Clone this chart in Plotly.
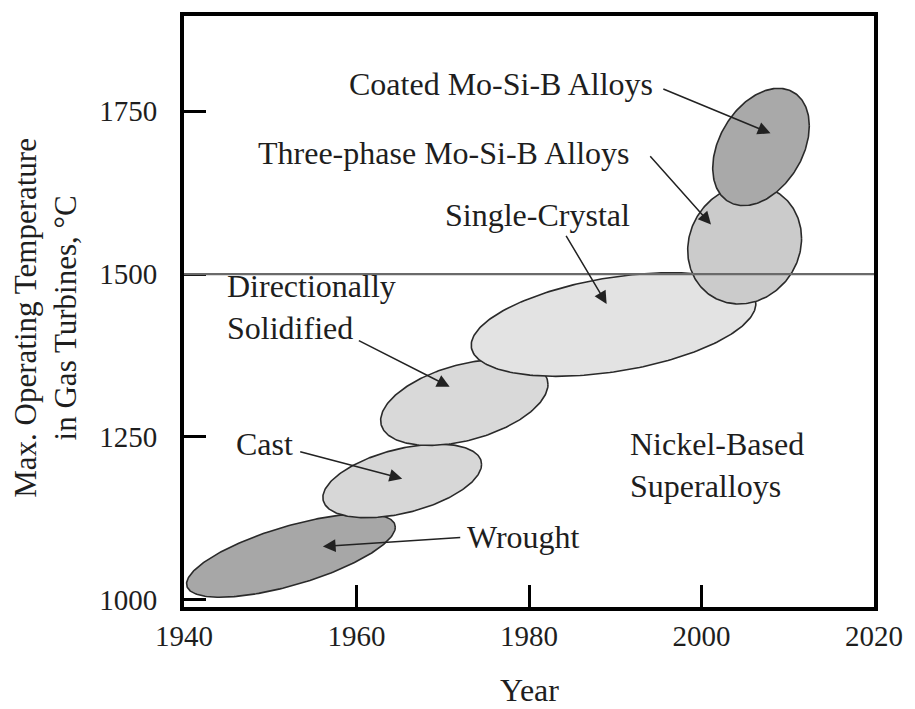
import numpy as np
import plotly.graph_objects as go

# ---- data ----
alloys = ["Wrought", "Cast", "Directionally Solidified", "Single-Crystal",
          "Three-phase Mo-Si-B Alloys", "Coated Mo-Si-B Alloys"]
year_start = [1940.3, 1956.1, 1962.8, 1973.3, 1998.4, 2001.3]
year_end = [1964.5, 1974.5, 1982.2, 2006.3, 2011.6, 2012.5]
temp_min = [1004, 1126, 1237, 1343, 1454, 1605]
temp_max = [1132, 1239, 1369, 1502, 1637, 1785]
tilt = [0.68, 0.45, 0.42, 0.40, 0.10, 0.36]  # year/temperature correlation of each band

arrow_tail_year = [1995.4, 1993.9, 1984.2, 1960.1, 1953.3, 1972.2]
arrow_tail_temp = [1785, 1683, 1561, 1399, 1228, 1096]
arrow_head_year = [2008.0, 2001.1, 1989.0, 1970.8, 1965.3, 1956.1]
arrow_head_temp = [1716, 1576, 1454, 1327, 1186, 1082]

reference_temp = 1500
x_ticks = [1940, 1960, 1980, 2000, 2020]
y_ticks = [1000, 1250, 1500, 1750]

# ---- styles ----
FONT = "Liberation Serif"
TXT = "#1e1e1e"
fills = ["#a7a7a7", "#d7d7d7", "#d9d9d9", "#e3e3e3", "#cbcbcb", "#a9a9a9"]

fig = go.Figure()
t = np.linspace(0, 2 * np.pi, 241)
for name, x0, x1, y0, y1, r, fc in zip(alloys, year_start, year_end,
                                        temp_min, temp_max, tilt, fills):
    cx, hx = (x0 + x1) / 2, (x1 - x0) / 2
    cy, hy = (y0 + y1) / 2, (y1 - y0) / 2
    xs = cx + hx * np.cos(t)
    ys = cy + hy * (r * np.cos(t) + np.sqrt(1 - r * r) * np.sin(t))
    fig.add_trace(go.Scatter(x=xs, y=ys, mode="lines", fill="toself",
                             fillcolor=fc, line=dict(color="#2a2a2a", width=1.6),
                             name=name, showlegend=False, hoverinfo="skip"))

fig.add_shape(type="line", xref="paper", x0=0, x1=1, yref="y",
              y0=reference_temp, y1=reference_temp,
              line=dict(color="#6a6a6a", width=2.2), layer="above")

for tx, ty, hx_, hy_ in zip(arrow_tail_year, arrow_tail_temp,
                            arrow_head_year, arrow_head_temp):
    fig.add_annotation(x=hx_, y=hy_, ax=tx, ay=ty, xref="x", yref="y",
                       axref="x", ayref="y", text="", showarrow=True,
                       arrowhead=2, arrowsize=1.7, arrowwidth=1.5,
                       arrowcolor="#222")

FS = 32
labels = [
    ("Coated Mo-Si-B Alloys", 1976.7, 1792),
    ("Three-phase Mo-Si-B Alloys", 1970.2, 1686),
    ("Single-Crystal", 1981.0, 1590),
    ("Cast", 1949.3, 1239),
    ("Wrought", 1979.4, 1097),
]
for txt, x, y in labels:
    fig.add_annotation(x=x, y=y, xref="x", yref="y", text=txt, showarrow=False,
                       xanchor="center", yanchor="middle",
                       font=dict(family=FONT, size=FS, color=TXT))
fig.add_annotation(x=1944.7, y=1449, xref="x", yref="y", xanchor="left",
                   yanchor="middle", align="left",
                   text="Directionally<br>Solidified",
                   showarrow=False, font=dict(family=FONT, size=FS, color=TXT))
fig.add_annotation(x=1991.5, y=1207, xref="x", yref="y", xanchor="left",
                   yanchor="middle", align="left",
                   text="Nickel-Based<br>Superalloys",
                   showarrow=False, font=dict(family=FONT, size=FS, color=TXT))

# axis titles
fig.add_annotation(x=-0.201, y=0.49, xref="paper", yref="paper", textangle=-90,
                   xanchor="center", yanchor="middle",
                   text="Max. Operating Temperature<br>in Gas Turbines, °C",
                   showarrow=False, font=dict(family=FONT, size=31, color=TXT))
fig.add_annotation(x=0.5, y=-0.14, xref="paper", yref="paper", text="Year",
                   xanchor="center", yanchor="middle",
                   showarrow=False, font=dict(family=FONT, size=FS, color=TXT))

axis_common = dict(showline=True, linewidth=4, linecolor="black", mirror=True,
                   ticks="inside", ticklen=22, tickwidth=3, tickcolor="black",
                   showgrid=False, zeroline=False, layer="below traces",
                   tickfont=dict(family=FONT, size=29, color=TXT))
fig.update_xaxes(range=[1940, 2020], tickvals=x_ticks, ticklabelstandoff=0,
                 **axis_common)
fig.update_yaxes(range=[989, 1896], tickvals=y_ticks, ticklabelstandoff=17,
                 **axis_common)

fig.update_layout(width=915, height=709, margin=dict(l=184, r=30, t=12, b=102),
                  plot_bgcolor="white", paper_bgcolor="white", showlegend=False)

fig.write_html("out.html")
